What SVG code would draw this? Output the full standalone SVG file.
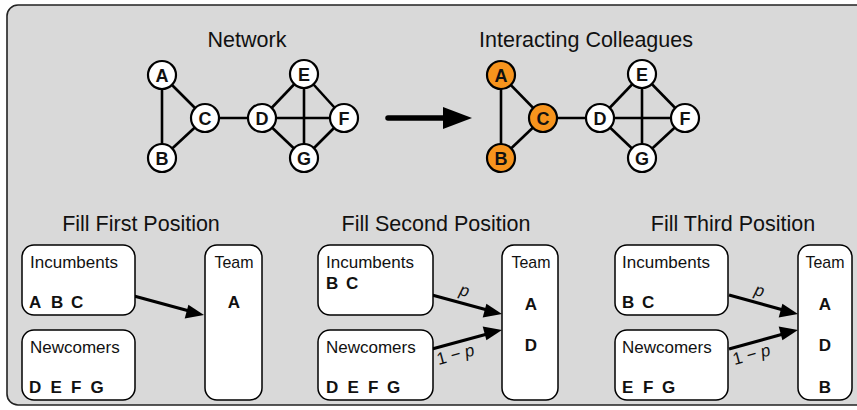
<svg xmlns="http://www.w3.org/2000/svg" width="857" height="410" viewBox="0 0 857 410">
<style>
text{font-family:"Liberation Sans",Arial,Helvetica,sans-serif;fill:#111}
.title{font-size:21.5px;text-anchor:middle}
.lbl{font-size:17px}
.team{font-size:17px;text-anchor:middle}
.b{font-size:17px;font-weight:bold}
.bm{font-size:17px;font-weight:bold;text-anchor:middle}
.nl{font-size:18px;font-weight:bold;text-anchor:middle}
.p{font-size:17px;font-style:italic;text-anchor:middle}
.edge{stroke:#000;stroke-width:2.6}
.node{fill:#fff;stroke:#000;stroke-width:2.2}
.org{fill:#F7941D;stroke:#000;stroke-width:2.2}
.box{fill:#fff;stroke:#000;stroke-width:1.5}
.arr{stroke:#000;stroke-width:3.2;fill:none}
.head{fill:#000}
</style>
<rect x="7" y="5" width="862" height="400" rx="11" fill="#d9d9d9" stroke="#222" stroke-width="1.6"/>

<text class="title" x="247" y="47">Network</text>
<text class="title" x="586" y="47">Interacting Colleagues</text>

<g id="connectors">
  <!-- left network -->
  <line class="edge" x1="162" y1="75" x2="162" y2="158"/>
  <line class="edge" x1="162" y1="75" x2="205" y2="118"/>
  <line class="edge" x1="162" y1="158" x2="205" y2="118"/>
  <line class="edge" x1="205" y1="118" x2="262" y2="118"/>
  <line class="edge" x1="262" y1="118" x2="304" y2="74"/>
  <line class="edge" x1="262" y1="118" x2="344" y2="118"/>
  <line class="edge" x1="262" y1="118" x2="304" y2="158"/>
  <line class="edge" x1="304" y1="74" x2="344" y2="118"/>
  <line class="edge" x1="304" y1="74" x2="304" y2="158"/>
  <line class="edge" x1="344" y1="118" x2="304" y2="158"/>
  <!-- right network -->
  <line class="edge" x1="501" y1="75" x2="501" y2="158"/>
  <line class="edge" x1="501" y1="75" x2="543" y2="118"/>
  <line class="edge" x1="501" y1="158" x2="543" y2="118"/>
  <line class="edge" x1="543" y1="118" x2="600" y2="118"/>
  <line class="edge" x1="600" y1="118" x2="642" y2="74"/>
  <line class="edge" x1="600" y1="118" x2="685" y2="118"/>
  <line class="edge" x1="600" y1="118" x2="642" y2="158"/>
  <line class="edge" x1="642" y1="74" x2="685" y2="118"/>
  <line class="edge" x1="642" y1="74" x2="642" y2="158"/>
  <line class="edge" x1="685" y1="118" x2="642" y2="158"/>
  <!-- big arrow -->
  <line x1="388" y1="118" x2="446" y2="118" stroke="#000" stroke-width="5.5" stroke-linecap="round"/>
  <polygon class="head" points="443,107 472,118 443,129"/>
  <!-- panel arrows -->
  <line class="arr" x1="134" y1="296" x2="192" y2="311.8"/>
  <polygon class="head" points="204,315 184.7,318.6 188.4,304.7"/>
  <line class="arr" x1="432" y1="295" x2="490" y2="310.8"/>
  <polygon class="head" points="502,314 482.7,317.6 486.4,303.7"/>
  <line class="arr" x1="432" y1="349" x2="490" y2="333.2"/>
  <polygon class="head" points="502,330 486.4,340.3 482.7,326.4"/>
  <line class="arr" x1="729" y1="295" x2="786" y2="310.8"/>
  <polygon class="head" points="798,314 778.7,317.6 782.4,303.7"/>
  <line class="arr" x1="729" y1="349" x2="786" y2="333.2"/>
  <polygon class="head" points="798,330 782.4,340.3 778.7,326.4"/>
  <text class="p" transform="translate(463,296) rotate(15)">p</text>
  <text class="p" style="font-style:normal" transform="translate(457,360) rotate(-15)">1 − <tspan font-style="italic">p</tspan></text>
  <text class="p" transform="translate(758,296) rotate(15)">p</text>
  <text class="p" style="font-style:normal" transform="translate(753,360) rotate(-15)">1 − <tspan font-style="italic">p</tspan></text>
</g>

<g id="net-A"><circle class="node" cx="162" cy="75" r="14"/><text class="nl" x="162" y="81.5">A</text></g>
<g id="net-B"><circle class="node" cx="162" cy="158" r="14"/><text class="nl" x="162" y="164.5">B</text></g>
<g id="net-C"><circle class="node" cx="205" cy="118" r="14"/><text class="nl" x="205" y="124.5">C</text></g>
<g id="net-D"><circle class="node" cx="262" cy="118" r="14"/><text class="nl" x="262" y="124.5">D</text></g>
<g id="net-E"><circle class="node" cx="304" cy="74" r="14"/><text class="nl" x="304" y="80.5">E</text></g>
<g id="net-F"><circle class="node" cx="344" cy="118" r="14"/><text class="nl" x="344" y="124.5">F</text></g>
<g id="net-G"><circle class="node" cx="304" cy="158" r="14"/><text class="nl" x="304" y="164.5">G</text></g>

<g id="int-A"><circle class="org" cx="501" cy="75" r="14"/><text class="nl" x="501" y="81.5">A</text></g>
<g id="int-B"><circle class="org" cx="501" cy="158" r="14"/><text class="nl" x="501" y="164.5">B</text></g>
<g id="int-C"><circle class="org" cx="543" cy="118" r="14"/><text class="nl" x="543" y="124.5">C</text></g>
<g id="int-D"><circle class="node" cx="600" cy="118" r="14"/><text class="nl" x="600" y="124.5">D</text></g>
<g id="int-E"><circle class="node" cx="642" cy="74" r="14"/><text class="nl" x="642" y="80.5">E</text></g>
<g id="int-F"><circle class="node" cx="685" cy="118" r="14"/><text class="nl" x="685" y="124.5">F</text></g>
<g id="int-G"><circle class="node" cx="642" cy="158" r="14"/><text class="nl" x="642" y="164.5">G</text></g>

<text class="title" x="141" y="231">Fill First Position</text>
<text class="title" x="436" y="231">Fill Second Position</text>
<text class="title" x="733" y="231">Fill Third Position</text>

<!-- Panel 1 -->
<g id="p1-incumbents">
  <rect class="box" x="22" y="245" width="113" height="70" rx="12"/>
  <text class="lbl" x="30" y="268">Incumbents</text>
  <text class="b" x="29" y="308">A</text><text class="b" x="51" y="308">B</text><text class="b" x="71" y="308">C</text>
</g>
<g id="p1-newcomers">
  <rect class="box" x="22" y="330" width="113" height="70" rx="12"/>
  <text class="lbl" x="30" y="353">Newcomers</text>
  <text class="b" x="29" y="393">D</text><text class="b" x="50.5" y="393">E</text><text class="b" x="71" y="393">F</text><text class="b" x="90.5" y="393">G</text>
</g>
<g id="p1-team">
  <rect class="box" x="205" y="245" width="57" height="155" rx="12"/>
  <text class="team" x="234" y="268" textLength="39" lengthAdjust="spacingAndGlyphs">Team</text>
  <text class="bm" x="234" y="308">A</text>
</g>

<!-- Panel 2 -->
<g id="p2-incumbents">
  <rect class="box" x="318" y="245" width="115" height="70" rx="12"/>
  <text class="lbl" x="326" y="268">Incumbents</text>
  <text class="b" x="326" y="289">B</text><text class="b" x="346" y="289">C</text>
</g>
<g id="p2-newcomers">
  <rect class="box" x="318" y="330" width="115" height="70" rx="12"/>
  <text class="lbl" x="326" y="353">Newcomers</text>
  <text class="b" x="326" y="393">D</text><text class="b" x="347.5" y="393">E</text><text class="b" x="368" y="393">F</text><text class="b" x="387" y="393">G</text>
</g>
<g id="p2-team">
  <rect class="box" x="502" y="245" width="56" height="155" rx="12"/>
  <text class="team" x="531" y="268" textLength="39" lengthAdjust="spacingAndGlyphs">Team</text>
  <text class="bm" x="531" y="310">A</text>
  <text class="bm" x="531" y="351">D</text>
</g>

<!-- Panel 3 -->
<g id="p3-incumbents">
  <rect class="box" x="615" y="245" width="113" height="70" rx="12"/>
  <text class="lbl" x="622" y="268">Incumbents</text>
  <text class="b" x="622" y="308">B</text><text class="b" x="642" y="308">C</text>
</g>
<g id="p3-newcomers">
  <rect class="box" x="615" y="330" width="113" height="70" rx="12"/>
  <text class="lbl" x="622" y="353">Newcomers</text>
  <text class="b" x="622" y="393">E</text><text class="b" x="643" y="393">F</text><text class="b" x="662" y="393">G</text>
</g>
<g id="p3-team">
  <rect class="box" x="798" y="245" width="54" height="155" rx="12"/>
  <text class="team" x="825" y="268" textLength="39" lengthAdjust="spacingAndGlyphs">Team</text>
  <text class="bm" x="825" y="310">A</text>
  <text class="bm" x="825" y="351">D</text>
  <text class="bm" x="825" y="393">B</text>
</g>
</svg>
